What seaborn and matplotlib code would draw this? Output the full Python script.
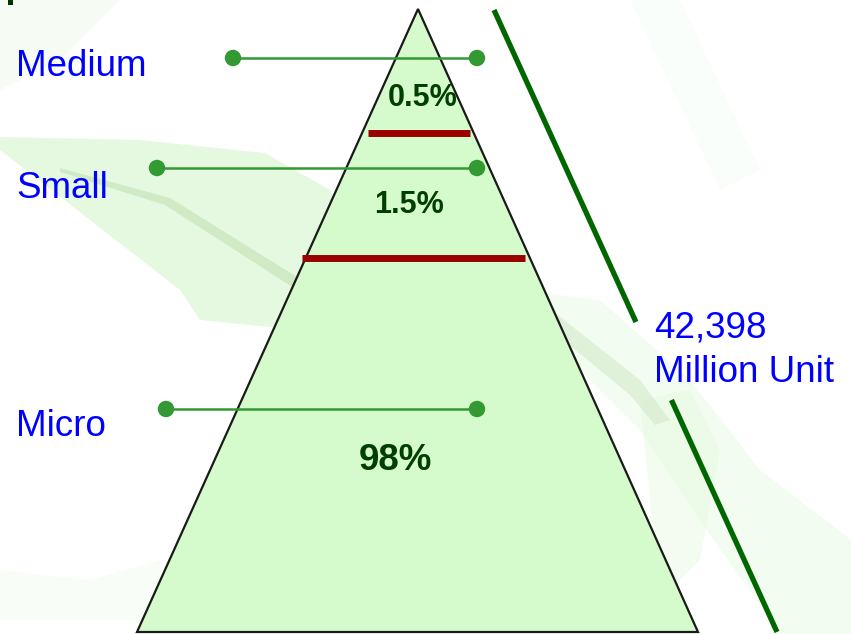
import matplotlib
matplotlib.use("Agg")
import matplotlib.pyplot as plt
from matplotlib.patches import Polygon
import seaborn as sns
import pandas as pd

# ---------------- data ----------------
categories = ["Medium", "Small", "Micro"]
shares = ["0.5%", "1.5%", "98%"]
total_value = "42,398"
total_unit = "Million Unit"

# ---------------- layout (pixel space of an 851x634 canvas) ----------------
W, H = 851, 634
label_x = 16
label_baseline = [76, 198, 436]
connector_y = [58, 168, 409]
connector_x0 = [233, 157, 166]
connector_x1 = 477
share_x = [423, 409, 395]
share_baseline = [106, 213, 470]
share_size = [22, 22, 26.5]
divider_y = [133, 258]
divider_x = [(368, 470), (302, 525)]
apex = (418, 9)
base_left = (137, 632)
base_right = (698, 632)

sns.set_theme(style="white")
plt.rcParams["font.family"] = ["Liberation Sans", "DejaVu Sans"]

fig = plt.figure(figsize=(W / 100, H / 100), dpi=100)
ax = fig.add_axes([0, 0, 1, 1])
ax.set_xlim(0, W)
ax.set_ylim(H, 0)
ax.axis("off")

# faint background leaves
leaf_col = "#ddf7d6"
leaves = [
    [(0, 137), (140, 140), (265, 153), (330, 190), (360, 260), (300, 330), (200, 320), (180, 290), (0, 150)],
    [(0, 0), (120, 0), (60, 60), (0, 90)],
    [(520, 290), (600, 300), (690, 380), (760, 470), (851, 540), (851, 634), (780, 634), (700, 520), (640, 430), (560, 350)],
    [(640, 400), (690, 390), (720, 450), (700, 560), (660, 600)],
    [(0, 570), (90, 580), (160, 560), (170, 620), (0, 620)],
    [(630, 0), (680, 0), (760, 170), (720, 190)],
]
alphas = [0.75, 0.25, 0.35, 0.3, 0.15, 0.12]
for pts, a in zip(leaves, alphas):
    ax.add_patch(Polygon(pts, closed=True, facecolor=leaf_col, edgecolor="none", alpha=a, zorder=0))
# leaf veins
ax.add_patch(Polygon([(60, 168), (170, 198), (305, 282), (300, 292), (165, 205), (60, 172)],
                     closed=True, facecolor="#c9e6bd", edgecolor="none", alpha=0.75, zorder=0))
ax.add_patch(Polygon([(520, 285), (640, 380), (670, 420), (655, 425), (630, 395), (515, 300)],
                     closed=True, facecolor="#cfe8c6", edgecolor="none", alpha=0.5, zorder=0))

# pyramid
ax.add_patch(Polygon([apex, base_left, base_right], closed=True, facecolor="#d5fbcc",
                     edgecolor="#1a1a1a", linewidth=1.6, zorder=2))

# dividers
for y, (x0, x1) in zip(divider_y, divider_x):
    ax.plot([x0, x1], [y, y], color="#990000", linewidth=5, solid_capstyle="butt", zorder=3)

# connectors
df = pd.DataFrame({
    "category": categories * 2,
    "x": connector_x0 + [connector_x1] * 3,
    "y": connector_y * 2,
})
for cat, y, x0 in zip(categories, connector_y, connector_x0):
    ax.plot([x0, connector_x1], [y, y], color="#339933", linewidth=1.8, zorder=4)
sns.scatterplot(data=df, x="x", y="y", color="#339933", s=140, edgecolor="none",
                legend=False, ax=ax, zorder=5)
ax.set_xlabel("")
ax.set_ylabel("")
ax.set_xlim(0, W)
ax.set_ylim(H, 0)
ax.axis("off")

# labels
for cat, yb in zip(categories, label_baseline):
    ax.text(label_x, yb, cat, color="#0000ff", fontsize=26.5, ha="left", va="baseline", zorder=6)
for s, x, yb, fs in zip(shares, share_x, share_baseline, share_size):
    ax.text(x, yb, s, color="#003f00", fontsize=fs, fontweight="bold", ha="center",
            va="baseline", zorder=6)

# total bracket line with gap
slope = (777 - 494) / (632 - 10)
def lx(y):
    return 494 + slope * (y - 10)
ax.plot([lx(10), lx(322)], [10, 322], color="#006600", linewidth=3.8, solid_capstyle="butt", zorder=4)
ax.plot([lx(400), lx(632)], [400, 632], color="#006600", linewidth=3.8, solid_capstyle="butt", zorder=4)
ax.text(654, 337, total_value, color="#0000ff", fontsize=26.5, ha="left", va="baseline", zorder=6)
ax.text(654, 382, total_unit, color="#0000ff", fontsize=26.5, ha="left", va="baseline", zorder=6)

# small cropped mark top-left
ax.add_patch(Polygon([(8, 0), (13, 0), (13, 5), (8, 5)], closed=True, facecolor="#003300",
                     edgecolor="none", zorder=6))

fig.savefig("out.png", dpi=100)
